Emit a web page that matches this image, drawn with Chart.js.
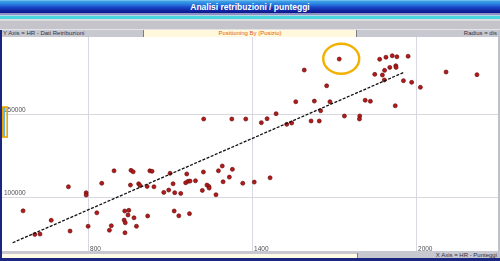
<!DOCTYPE html>
<html>
<head>
<meta charset="utf-8">
<script src="https://cdn.jsdelivr.net/npm/chart.js@4.4.1/dist/chart.umd.min.js"></script>
<style>
  html,body{margin:0;padding:0;background:#fff;}
  body{width:500px;height:261px;position:relative;overflow:hidden;font-family:"Liberation Sans",Arial,sans-serif;}
  .b{position:absolute;left:0;width:500px;}
  .t{position:absolute;white-space:nowrap;}
</style>
</head>
<body>
<div class="b" style="top:0;height:13px;background:linear-gradient(#9fd0f2 0,#3da4e6 1px,#2a80e0 4px,#1c4ccc 7px,#122aa8 10px,#0c1688 13px);"></div>
<div class="t" style="top:2px;left:0;width:500px;text-align:center;color:#fff;font-weight:bold;font-size:8.5px;line-height:10px;">Analisi retribuzioni / punteggi</div>
<div class="b" style="top:13px;height:2px;background:#8c92c6;"></div>
<div class="b" style="top:15px;height:1px;background:#b8d8e8;"></div>
<div class="b" style="top:16px;height:3px;background:#4cd6e0;"></div>
<div class="b" style="top:19px;height:2px;background:#dcdce0;"></div>
<div class="b" style="top:21px;height:8px;background:#c4c4ca;"></div>
<div class="b" style="top:29px;height:1px;background:#e4e4e8;"></div>
<div class="b" style="top:30px;height:7px;background:#c8c8d0;"></div>
<div class="t" style="top:30px;left:143px;width:214px;height:7px;background:#fff8dc;border-left:1px solid #7c7c84;border-right:1px solid #7c7c84;box-sizing:border-box;"></div>
<div class="t" style="top:30px;left:3px;font-size:6px;line-height:7px;color:#303040;">Y Axis = HR - Dati Retribuzioni</div>
<div class="t" style="top:30px;left:143px;width:214px;text-align:center;font-size:6px;line-height:7px;color:#e06020;">Positioning By (Posizio)</div>
<div class="t" style="top:30px;right:3px;font-size:6px;line-height:7px;color:#303040;">Radius = dis</div>
<div class="t" style="top:30px;left:0;width:2px;height:231px;background:#1a2680;"></div>
<div class="t" style="top:30px;left:498px;width:2px;height:231px;background:#c0c0c8;"></div>

<div class="t" style="left:2px;top:37px;width:496px;height:214px;">
  <canvas id="c"></canvas>
</div>

<div class="t" style="top:251px;left:2px;width:496px;height:3px;background:#c8c8d0;"></div>
<div class="t" style="top:254px;left:2px;width:355px;height:4px;background:#fffbe6;"></div>
<div class="t" style="top:253px;left:357px;width:141px;height:5px;background:#c8c8d0;border-left:1px solid #7c7c84;box-sizing:border-box;"></div>
<div class="t" style="top:252px;right:3px;font-size:6px;line-height:7px;color:#303040;">X Axis = HR - Punteggi</div>
<div class="b" style="top:258px;height:3px;background:#1a2680;"></div>

<script>
// Tick labels
const xTicks = [800, 1400, 2000];
const yTicks = [100000, 150000];

// Scatter points: punteggi (x) and retribuzioni (y)
const punteggi = [
 895,728,850,793,793,562,832,665,734,800,605,624,957,965,955,985,990,1026,1034,1016,
 1041,934,949,946,968,932,936,1018,885,878,977,935,1100,1111,1077,1095,1117,1139,1115,1132,
 1171,1161,1157,1166,1173,1193,1222,1218,1235,1242,1243,1268,1277,1291,1294,1317,1328,1366,1408,1466,
 1223,1326,1377,1719,1591,1867,1890,1913,1930,1971,1904,1926,1927,1849,1877,1885,1884,1954,1984,2016,
 2110,2223,1673,1560,1628,1685,1651,1814,1833,1924,1488,1455,1434,1616,1646,1738,1794,1793,1527,1545
];
const retribuzioni = [
 115800,106200,108300,102600,101200,91700,90500,86000,79500,82400,77500,77700,116100,115200,107200,108000,107000,115800,115500,106400,
 106200,91600,92000,89200,87500,86100,84500,88600,82700,80000,82400,78500,114300,108000,102800,104200,102600,102200,91600,88700,
 90000,113900,108600,109500,109600,109800,115100,104000,107200,106400,105400,101400,115800,118700,109200,112000,116700,108300,109000,111600,
 147000,147000,147000,183100,176500,183000,184200,185100,184500,184800,178100,179100,178100,173900,173500,176300,170500,170100,169100,166100,
 175300,173700,167000,157400,157800,157400,152000,158300,157700,155000,150200,147200,144800,145800,145800,148800,148800,147000,143800,144600
];

// Trend line end points
const trendX = [524, 1956];
const trendY = [72470, 175120];

// Highlighted point (circled)
const highlightX = 1719;
const highlightY = 183100;

const points = punteggi.map((x, i) => ({x, y: retribuzioni[i]}));
const trend = trendX.map((x, i) => ({x, y: trendY[i]}));

const gridAndLabels = {
  id: 'gridAndLabels',
  beforeDatasetsDraw(chart) {
    const {ctx, chartArea, scales} = chart;
    ctx.save();
    ctx.strokeStyle = '#d8d8e0';
    ctx.lineWidth = 1;
    xTicks.forEach(v => {
      const px = Math.round(scales.x.getPixelForValue(v)) + 0.5;
      ctx.beginPath(); ctx.moveTo(px, chartArea.top); ctx.lineTo(px, chartArea.bottom); ctx.stroke();
    });
    yTicks.forEach(v => {
      const py = Math.round(scales.y.getPixelForValue(v)) + 0.5;
      ctx.beginPath(); ctx.moveTo(chartArea.left, py); ctx.lineTo(chartArea.right, py); ctx.stroke();
    });
    ctx.font = '6.5px "Liberation Sans", Arial, sans-serif';
    ctx.fillStyle = '#505058';
    ctx.textBaseline = 'alphabetic';
    ctx.textAlign = 'left';
    xTicks.forEach(v => {
      ctx.fillText(String(v), scales.x.getPixelForValue(v) + 2, chartArea.bottom - 0.5);
    });
    yTicks.forEach(v => {
      ctx.fillText(String(v), chartArea.left + 2, scales.y.getPixelForValue(v) - 2);
    });
    ctx.restore();
  },
  afterDatasetsDraw(chart) {
    const {ctx, scales} = chart;
    ctx.save();
    const hx = scales.x.getPixelForValue(highlightX) + 2;
    const hy = scales.y.getPixelForValue(highlightY) - 0.3;
    ctx.beginPath();
    ctx.ellipse(hx, hy, 18, 15, 0, 0, Math.PI * 2);
    ctx.strokeStyle = '#f2b000';
    ctx.lineWidth = 2.4;
    ctx.stroke();
    const by = scales.y.getPixelForValue(150000);
    ctx.fillStyle = '#5ab8ea';
    ctx.fillRect(0, by - 7, 3, 30);
    ctx.strokeStyle = '#f0a800';
    ctx.lineWidth = 1.6;
    ctx.strokeRect(0.8, by - 7, 4.4, 30);
    ctx.restore();
  }
};

new Chart(document.getElementById('c'), {
  data: {
    datasets: [
      {
        type: 'scatter',
        data: points,
        pointRadius: 2,
        pointBackgroundColor: '#b41a1a',
        pointBorderColor: '#6a0e0e',
        pointBorderWidth: 0.7,
        order: 2
      },
      {
        type: 'line',
        data: trend,
        borderColor: '#111',
        borderWidth: 1.3,
        borderDash: [3, 1.5],
        pointRadius: 0,
        fill: false,
        order: 1
      }
    ]
  },
  options: {
    responsive: true,
    maintainAspectRatio: false,
    animation: false,
    events: [],
    layout: {padding: 0, autoPadding: false},
    plugins: {legend: {display: false}, tooltip: {enabled: false}},
    scales: {
      x: {type: 'linear', min: 485, max: 2300, display: false},
      y: {type: 'linear', min: 67500, max: 196400, display: false}
    }
  },
  plugins: [gridAndLabels]
});
</script>
</body>
</html>
